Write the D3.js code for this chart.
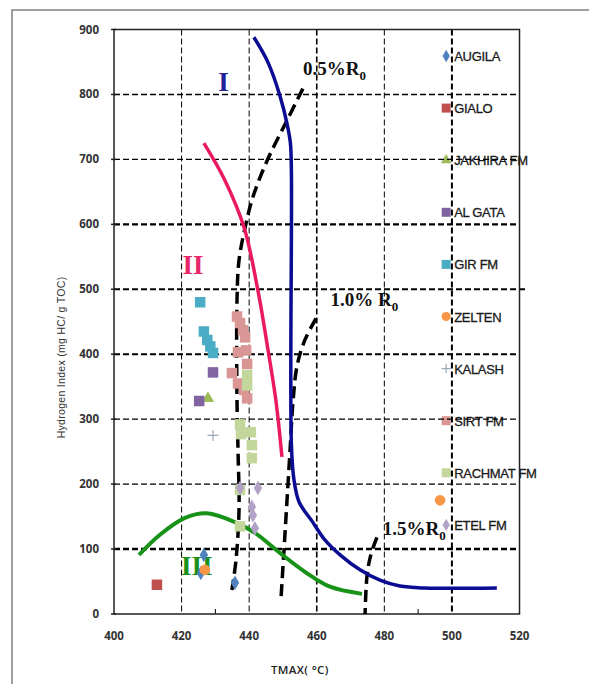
<!DOCTYPE html>
<html>
<head>
<meta charset="utf-8">
<script src="https://cdn.jsdelivr.net/npm/d3@7"></script>
<style>
body { margin: 0; background: #fff; }
.tick-label { font-family: 'Open Sans', sans-serif; font-weight: 700; font-size: 11.5px; fill: #333; }
.legend-label { font-family: 'Liberation Sans Narrow', 'Liberation Sans', sans-serif; font-size: 13px; fill: #1a1a1a; stroke: #1a1a1a; stroke-width: 0.3px; letter-spacing: -0.3px; }
.zone-label { font-family: 'Liberation Serif', serif; font-weight: 700; }
</style>
</head>
<body>
<div id="chart"></div>
<script>
'use strict'
const xTicks = [400, 420, 440, 460, 480, 500, 520]
const yTicks = [0, 100, 200, 300, 400, 500, 600, 700, 800, 900]
const xGrid = [420, 440, 460, 480, 500]
const yGrid = [100, 200, 300, 400, 500, 600, 700, 800]
const minorTicks = [430, 490]

// Kerogen type boundaries [Tmax, HI]
const curveI = [[441.4, 888], [445.6, 849], [449.1, 798], [451.2, 755], [452.2, 725], [452.5, 680], [452.5, 260], [453.3, 205], [454.8, 172], [458.6, 143], [462.4, 114], [466.9, 91], [472.8, 68], [478.7, 52], [484.6, 43], [492, 40], [513.3, 40]]
const curveII = [[426.6, 725], [432.8, 668], [438.5, 595], [442.6, 498], [445.6, 406], [447.9, 329], [449.7, 242]]
const curveIII = [[407.4, 91], [413.6, 122], [421, 148], [427.5, 155], [436.4, 140], [441.7, 125], [449.1, 94], [456.5, 65], [463.9, 42], [473.4, 31]]

// Vitrinite reflectance iso-lines
const ro05 = [[455.9, 809], [451.2, 760], [445.3, 698], [441.1, 642], [438.8, 595], [437, 545], [436.4, 483], [436.4, 329], [436.7, 252], [437, 160], [436.1, 83], [434.9, 37]]
const ro10 = [[459.8, 455], [456.5, 422], [454.2, 383], [453, 329], [452.1, 252], [451.2, 175], [450.3, 98], [449.4, 22]]
const ro15 = [[477.8, 118], [476, 91], [474.9, 60], [474.3, 0]]

// Samples [Tmax, HI]
const augila = [[426.6, 91], [425.7, 63], [435.8, 48]]
const gialo = [[412.7, 45]]
const jakhira = [[427.8, 332]]
const alGata = [[429.3, 372], [425.2, 328]]
const girFm = [[425.5, 480], [426.6, 435], [427.6, 422], [428.5, 412], [429.3, 402]]
const zelten = [[426.9, 68], [496.5, 175]]
const kalash = [[429.3, 275]]
const sirtFm = [[436.4, 458], [437.3, 448], [438.2, 437], [438.8, 426], [436.7, 403], [439.1, 406], [434.9, 371], [436.7, 355], [438.5, 345], [439.4, 332], [439.4, 385]]
const rachmatFm = [[439.4, 368], [439.4, 352], [437.3, 292], [437.6, 277], [440.5, 280], [440.8, 260], [440.8, 240], [437.3, 191], [437.3, 135]]
const etelFm = [[437.3, 194], [442.6, 194], [440.8, 165], [441.1, 152], [441.7, 132]]

const seriesNames = ['AUGILA', 'GIALO', 'JAKHIRA FM', 'AL GATA', 'GIR FM', 'ZELTEN', 'KALASH', 'SIRT FM', 'RACHMAT FM', 'ETEL FM']
const seriesData = [augila, gialo, jakhira, alGata, girFm, zelten, kalash, sirtFm, rachmatFm, etelFm]
const seriesColors = ['#4f81bd', '#c0504d', '#9bbb59', '#8064a2', '#4bacc6', '#f79646', '#98a8b8', '#d99694', '#c3d69b', '#b3a2c7']
const seriesShapes = ['diamond', 'square', 'triangle', 'square', 'square', 'circle', 'plus', 'square', 'square', 'diamond']

const W = 589, H = 684
const margin = { top: 29.5, left: 114, right: 69.5, bottom: 70 }
const width = W - margin.left - margin.right
const height = H - margin.top - margin.bottom

const svg = d3.select('#chart').append('svg')
    .attr('width', W)
    .attr('height', H)

svg.append('rect') // outer frame of the figure
    .attr('x', 12).attr('y', 10)
    .attr('width', 620).attr('height', 700)
    .attr('fill', 'none')
    .attr('stroke', '#808080')
    .attr('stroke-width', 1.5)

const g = svg.append('g')
    .attr('transform', `translate(${margin.left},${margin.top})`)

const x = d3.scaleLinear().domain([400, 520]).range([0, width])
const y = d3.scaleLinear().domain([0, 900]).range([height, 0])

function symbolPath(shape, size) {
    if (shape === 'plus') {
        const s = size / 2
        return `M${-s},0H${s}M0,${-s}V${s}`
    }
    const types = { diamond: d3.symbolDiamond, square: d3.symbolSquare, triangle: d3.symbolTriangle, circle: d3.symbolCircle }
    const areas = { diamond: size * size * 0.55, square: size * size, triangle: size * size * 0.6, circle: size * size * 0.8 }
    return d3.symbol().type(types[shape]).size(areas[shape])()
}

function drawSymbol(sel, shape, color, size) {
    sel.append('path')
        .attr('d', symbolPath(shape, size))
        .attr('fill', shape === 'plus' ? 'none' : color)
        .attr('stroke', shape === 'plus' ? color : 'none')
        .attr('stroke-width', 1.2)
}

// Legend (sits inside the plot area on the right)
const legend = g.append('g')
seriesNames.forEach((name, i) => {
    const ly = 26.5 + i * 52.1
    const item = legend.append('g').attr('transform', `translate(${x(498.3)},${ly})`)
    drawSymbol(item, seriesShapes[i], seriesColors[i], 9)
    item.append('text')
        .attr('class', 'legend-label')
        .attr('x', 8)
        .attr('y', 5)
        .text(name)
})

// Grid lines
const hGridWidth = { 100: 2.4, 200: 1.4, 300: 1.2, 400: 2, 500: 2, 600: 2.4, 700: 1.2, 800: 1.4 }
g.append('g').selectAll('line')
    .data(yGrid).enter().append('line')
    .attr('x1', 0)
    .attr('x2', d => d === 500 ? width + 6 : width)
    .attr('y1', d => y(d))
    .attr('y2', d => y(d))
    .attr('stroke', '#000')
    .attr('stroke-width', d => hGridWidth[d])
    .attr('stroke-dasharray', '6,3')
const vGridWidth = { 420: 1, 440: 1, 460: 1.6, 480: 1, 500: 2 }
g.append('g').selectAll('line')
    .data(xGrid).enter().append('line')
    .attr('x1', d => x(d))
    .attr('x2', d => x(d))
    .attr('y1', 0)
    .attr('y2', height)
    .attr('stroke', '#000')
    .attr('stroke-width', d => vGridWidth[d])
    .attr('stroke-dasharray', '6,3')

// Minor ticks on the x axis
g.append('g').selectAll('line')
    .data(minorTicks).enter().append('line')
    .attr('x1', d => x(d)).attr('x2', d => x(d))
    .attr('y1', height).attr('y2', height - 5)
    .attr('stroke', '#000')

// Plot border
g.append('rect')
    .attr('width', width)
    .attr('height', height)
    .attr('fill', 'none')
    .attr('stroke', '#222')
    .attr('stroke-width', 1.5)

const line = d3.line()
    .x(d => x(d[0]))
    .y(d => y(d[1]))
    .curve(d3.curveCatmullRom.alpha(0.5))

// Ro iso-lines (thick black dashes)
;[ro05, ro10, ro15].forEach(d => {
    g.append('path').datum(d)
        .attr('fill', 'none')
        .attr('stroke', '#000')
        .attr('stroke-width', 3.5)
        .attr('stroke-dasharray', '12,6')
        .attr('d', line)
})

// Kerogen type curves
g.append('path').datum(curveI) // Type I
    .attr('fill', 'none')
    .attr('stroke', '#0b0b93')
    .attr('stroke-width', 3.5)
    .attr('d', line)
g.append('path').datum(curveII) // Type II
    .attr('fill', 'none')
    .attr('stroke', '#ea1a62')
    .attr('stroke-width', 3.5)
    .attr('d', line)
g.append('path').datum(curveIII) // Type III
    .attr('fill', 'none')
    .attr('stroke', '#189218')
    .attr('stroke-width', 4)
    .attr('d', line)

// Zone labels
g.append('text')
    .attr('class', 'zone-label')
    .attr('x', x(432.4)).attr('y', y(805))
    .attr('text-anchor', 'middle')
    .attr('font-size', 27)
    .attr('fill', '#20209a')
    .text('I')
g.append('text')
    .attr('class', 'zone-label')
    .attr('x', x(420.3)).attr('y', y(523))
    .attr('font-size', 27)
    .attr('fill', '#e8266a')
    .text('II')
g.append('text')
    .attr('class', 'zone-label')
    .attr('x', x(419.8)).attr('y', y(60))
    .attr('font-size', 27)
    .attr('fill', '#1a8f1a')
    .text('III')

// Ro labels
const roLabels = [
    { t: 455.9, hi: 830, text: '0.5%R' },
    { t: 464.1, hi: 475, text: '1.0% R' },
    { t: 479.5, hi: 122, text: '1.5%R' }
]
roLabels.forEach(d => {
    const t = g.append('text')
        .attr('class', 'zone-label')
        .attr('x', x(d.t)).attr('y', y(d.hi))
        .attr('font-size', 19)
        .attr('fill', '#111')
        .text(d.text)
    t.append('tspan')
        .attr('font-size', 13)
        .attr('dy', 5)
        .text('0')
})

// Sample points
seriesData.forEach((data, i) => {
    g.append('g').selectAll('g')
        .data(data).enter().append('g')
        .attr('transform', d => `translate(${x(d[0])},${y(d[1])})`)
        .each(function() { drawSymbol(d3.select(this), seriesShapes[i], seriesColors[i], seriesShapes[i] === 'plus' ? 11 : 10.5) })
})

// Axis tick labels
g.append('g').selectAll('text')
    .data(xTicks).enter().append('text')
    .attr('class', 'tick-label')
    .attr('x', d => x(d))
    .attr('y', height + 26)
    .attr('text-anchor', 'middle')
    .text(d => d)
g.append('g').selectAll('line')
    .data(yTicks).enter().append('line')
    .attr('x1', -3).attr('x2', 2)
    .attr('y1', d => y(d)).attr('y2', d => y(d))
    .attr('stroke', '#222')
    .attr('stroke-width', 1.5)
g.append('g').selectAll('text')
    .data(yTicks).enter().append('text')
    .attr('class', 'tick-label')
    .attr('x', -15)
    .attr('y', d => y(d) + 4)
    .attr('text-anchor', 'end')
    .text(d => d)

// Axis titles
g.append('text')
    .attr('x', x(455)).attr('y', height + 60)
    .attr('text-anchor', 'middle')
    .attr('font-family', "'Open Sans', sans-serif")
    .attr('font-weight', 600)
    .attr('font-size', 11.5)
    .attr('letter-spacing', 0.4)
    .attr('fill', '#222')
    .text('TMAX( °C)')
g.append('text')
    .attr('transform', `translate(-49,${y(395)}) rotate(-90)`)
    .attr('text-anchor', 'middle')
    .attr('font-family', "'Liberation Sans', sans-serif")
    .attr('font-size', 10.5)
    .attr('letter-spacing', 0.3)
    .attr('fill', '#333')
    .text('Hydrogen Index (mg HC/ g TOC)')
</script>
</body>
</html>
